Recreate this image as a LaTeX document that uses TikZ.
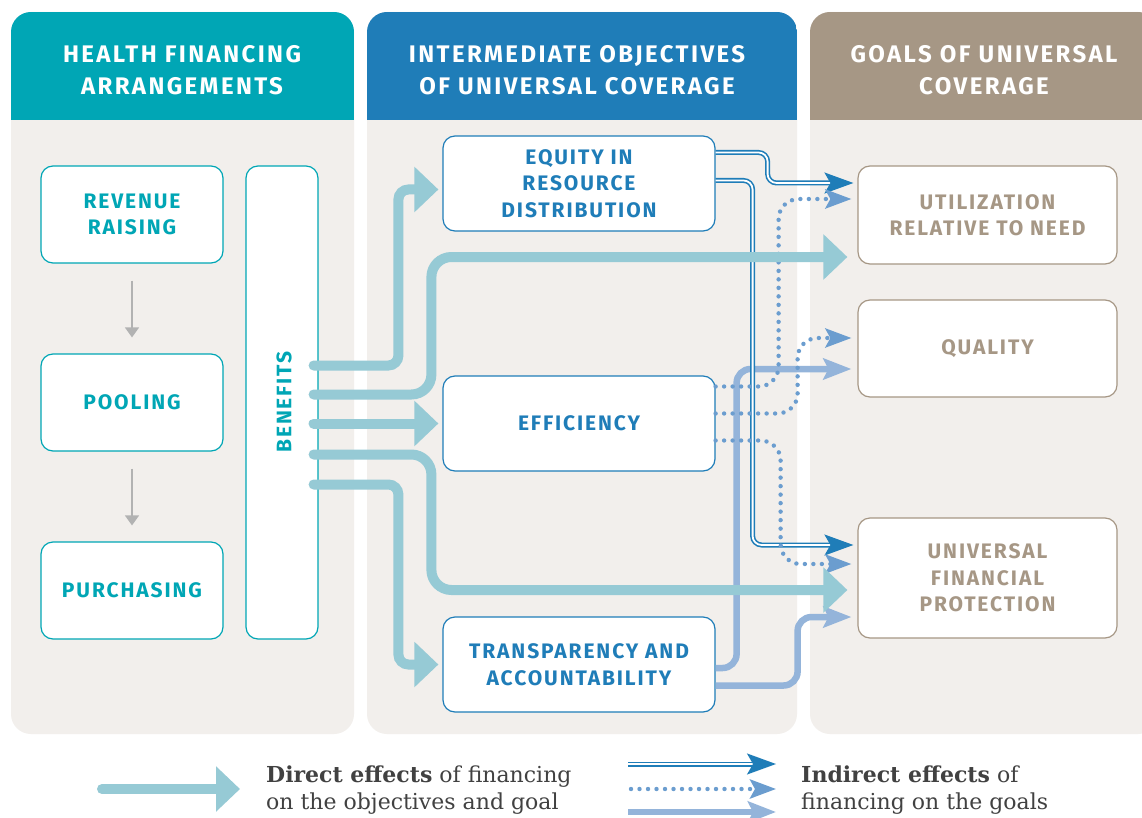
\documentclass[tikz,border=0pt]{standalone}
\usepackage{fontspec}
\setmainfont{DejaVu Serif}
\newfontfamily\labfont[LetterSpace=9]{Fira Sans}
\newfontfamily\hdrfont[LetterSpace=10]{Fira Sans}
\usetikzlibrary{arrows.meta,calc}

\definecolor{tealhead}{HTML}{00A6B5}
\definecolor{bluehead}{HTML}{1F7DB8}
\definecolor{taupehead}{HTML}{A69785}
\definecolor{panelbg}{HTML}{F2EFEC}
\definecolor{directc}{HTML}{96CAD5}
\definecolor{dottedc}{HTML}{6B9DCF}
\definecolor{softblue}{HTML}{94B4DA}
\definecolor{legendtext}{HTML}{414141}

\tikzset{
  panel/.style={fill=panelbg, rounded corners=20pt},
  hdrtext/.style={text=white, align=center,
    font=\hdrfont\bfseries\fontsize{24}{32}\selectfont},
  labbox/.style={fill=white, line width=1.2pt, rounded corners=12pt,
    align=center, inner sep=0pt,
    font=\labfont\bfseries\fontsize{21}{26.5}\selectfont},
  finbox/.style={labbox, draw=tealhead, text=tealhead,
    minimum width=182pt, minimum height=97pt},
  objbox/.style={labbox, draw=bluehead, text=bluehead,
    minimum width=272pt, minimum height=95pt},
  goalbox/.style={labbox, draw=taupehead, text=taupehead,
    minimum width=259pt, minimum height=97pt},
  stepflow/.style={draw=black!30, line width=1.5pt,
    -{Triangle[length=10pt,width=14pt]}, shorten <=17pt, shorten >=16pt},
  direct/.style={draw=directc, line width=10pt, line cap=round,
    -{Triangle[length=24pt,width=44pt]}, shorten >=4pt},
  indirect/.style={draw=bluehead, line width=1.6pt, double=white,
    double distance=1.8pt, rounded corners=9pt,
    -{Stealth[length=29pt,width=21pt,inset=6pt]}},
  dotline/.style={draw=dottedc, line width=4.4pt, line cap=round,
    dash pattern=on 0pt off 8.5pt, rounded corners=20pt,
    -{Stealth[length=26pt,width=19pt,inset=5pt]}},
  softline/.style={draw=softblue, line width=6.5pt, rounded corners=14pt,
    -{Stealth[length=28pt,width=21pt,inset=5pt]}},
  legend/.style={anchor=west, align=left, text=legendtext, inner sep=0pt,
    font=\fontsize{22}{27}\selectfont}
}

\begin{document}
\begin{tikzpicture}[x=1pt, y=-1pt]
  \useasboundingbox (0,0) rectangle (1142,818);
  \fill[white] (0,0) rectangle (1142,818);

  % panels
  \fill[panel] (11,12) rectangle (354,734);
  \fill[panel] (367,12) rectangle (797,734);
  \fill[panel] (810,12) rectangle (1158,734);
  \begin{scope}
    \clip[rounded corners=20pt] (11,12) rectangle (354,734);
    \fill[tealhead] (11,12) rectangle (354,120);
  \end{scope}
  \begin{scope}
    \clip[rounded corners=20pt] (367,12) rectangle (797,734);
    \fill[bluehead] (367,12) rectangle (797,120);
  \end{scope}
  \begin{scope}
    \clip[rounded corners=20pt] (810,12) rectangle (1158,734);
    \fill[taupehead] (810,12) rectangle (1158,120);
  \end{scope}
  \node[hdrtext] (hdrfin) at (182,70) {HEALTH FINANCING\\ARRANGEMENTS};
  \node[hdrtext] (hdrobj) at (577,70) {INTERMEDIATE OBJECTIVES\\OF UNIVERSAL COVERAGE};
  \node[hdrtext] (hdrgoal) at (984,70) {GOALS OF UNIVERSAL\\COVERAGE};

  % boxes
  \node[finbox] (revenue) at (132,214.5) {REVENUE\\RAISING};
  \node[finbox] (pooling) at (132,402.5) {POOLING};
  \node[finbox] (purchasing) at (132,590.5) {PURCHASING};
  \node[finbox, minimum width=72pt, minimum height=473pt] (benefits) at (282,402.5) {};
  \node[rotate=90, text=tealhead, inner sep=0pt,
    font=\labfont\bfseries\fontsize{21}{26.5}\selectfont] (benefitslabel) at (284,402) {BENEFITS};
  \node[objbox] (equity) at (579,183.5) {EQUITY IN\\RESOURCE\\DISTRIBUTION};
  \node[objbox] (efficiency) at (579,423.5) {EFFICIENCY};
  \node[objbox] (transparency) at (579,664.5) {TRANSPARENCY AND\\ACCOUNTABILITY};
  \node[goalbox, minimum height=98pt] (utilization) at (987.5,215) {UTILIZATION\\RELATIVE TO NEED};
  \node[goalbox] (quality) at (987.5,348.5) {QUALITY};
  \node[goalbox, minimum height=120pt] (protection) at (987.5,578) {UNIVERSAL\\FINANCIAL\\PROTECTION};

  \draw[stepflow] (revenue) -- (pooling);
  \draw[stepflow] (pooling) -- (purchasing);

  % end points of the connectors
  \coordinate (b3) at ($(benefits.east |- efficiency.west)+(-5,0)$);
  \coordinate (b1) at ($(b3)+(0,-58)$);
  \coordinate (b2) at ($(b3)+(0,-29)$);
  \coordinate (b4) at ($(b3)+(0,31)$);
  \coordinate (b5) at ($(b3)+(0,61)$);
  \coordinate (v1) at ($(equity.west)+(-44,6)$);
  \coordinate (v2) at ($(equity.west)+(-11,0)$);
  \coordinate (u1) at ($(utilization.west)+(-6,42)$);
  \coordinate (u2) at ($(utilization.west)+(-4,-32)$);
  \coordinate (u3) at ($(utilization.west)+(-6,-16)$);
  \coordinate (q1) at ($(quality.west)+(-6,-10.5)$);
  \coordinate (q2) at ($(quality.west)+(-6,20.5)$);
  \coordinate (p1) at ($(protection.west)+(-6,12)$);
  \coordinate (f1) at ($(protection.west)+(-4,-33)$);
  \coordinate (f2) at ($(protection.west)+(-6,-14)$);
  \coordinate (f3) at ($(protection.west)+(-6,39)$);
  \coordinate (e1) at ($(equity.east)+(0,-31)$);
  \coordinate (e2) at ($(equity.east)+(0,-3)$);
  \coordinate (d1) at ($(efficiency.east)+(0,-37)$);
  \coordinate (d2) at ($(efficiency.east)+(0,-10)$);
  \coordinate (d3) at ($(efficiency.east)+(0,17)$);
  \coordinate (t1) at ($(transparency.east)+(0,3.5)$);
  \coordinate (t2) at ($(transparency.east)+(0,21)$);

  % indirect effects
  \draw[softline] (t1) -- ++(21,0) |- (q2);
  \draw[softline] (t2) -- ++(82,0) |- (f3);
  \draw[indirect] (e1) -- ++(52,0) |- (u2);
  \draw[indirect] (e2) -- ++(37,0) |- (f1);
  \draw[dotline] (d1) -- ++(63,0) |- (u3);
  \draw[dotline] (d2) -- ++(82,0) |- (q1);
  \draw[dotline] (d3) -- ++(65,0) |- (f2);

  % direct effects
  \draw[direct, rounded corners=10pt] (b1) -| (v1) -- (equity.west |- v1);
  \draw[direct, rounded corners=20pt] (b2) -| (v2 |- u1) -- (u1);
  \draw[direct] (b3) -- (efficiency.west);
  \draw[direct, rounded corners=20pt] (b4) -| (v2 |- p1) -- (p1);
  \draw[direct, rounded corners=10pt] (b5) -| (v1 |- transparency.west) -- (transparency.west);

  % legend
  \coordinate (ld0) at (102,789);
  \coordinate (ld1) at (244,789);
  \draw[direct] (ld0) -- (ld1);
  \node[legend] (directtext) at (266,790) {\textbf{Direct effects} of financing\\on the objectives and goal};
  \coordinate (li0) at (628,764);
  \coordinate (li1) at (776,764);
  \coordinate (li2) at (631,789);
  \coordinate (li3) at (776,789);
  \coordinate (li4) at (628,812);
  \coordinate (li5) at (776,812);
  \draw[indirect] (li0) -- (li1);
  \draw[dotline] (li2) -- (li3);
  \draw[softline] (li4) -- (li5);
  \node[legend] (indirecttext) at (801,790) {\textbf{Indirect effects} of\\financing on the goals};
\end{tikzpicture}
\end{document}
